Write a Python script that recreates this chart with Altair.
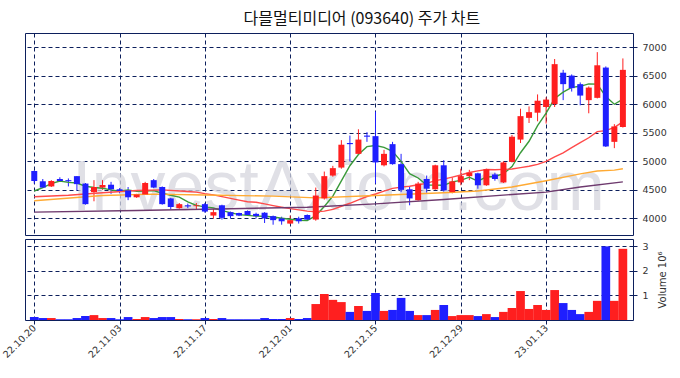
import altair as alt
import pandas as pd

title_text = "다믈멀티미디어 (093640) 주가 차트"
watermark = "InvestAxiom.com"
tick_idx = [0, 10, 20, 30, 40, 50, 60]
tick_labels = ["22.10.20", "22.11.03", "22.11.17", "22.12.01", "22.12.15", "22.12.29", "23.01.13"]
price_ticks = [4000, 4500, 5000, 5500, 6000, 6500, 7000]
vol_ticks = [1, 2, 3]

opens = [4830, 4650, 4560, 4690, 4670, 4740, 4610, 4460, 4540, 4590,
         4510, 4490, 4370, 4420, 4670, 4550, 4350, 4180, 4230, 4215,
         4250, 4050, 4230, 4110, 4095, 4130, 4080, 4100, 4040, 4000,
         3910, 4000, 4060, 3980, 4350, 4750, 4890, 5320, 5130, 5450,
         5440, 4930, 5300, 4950, 4510, 4320, 4690, 4510, 4930, 4460,
         4630, 4740, 4790, 4580, 4770, 4630, 4990, 5380, 5760, 5850,
         5950, 6000, 6550, 6500, 6350, 6070, 6110, 6640, 5340, 5600]
highs = [4840, 4690, 4670, 4720, 4700, 4740, 4620, 4670, 4670, 4640,
         4530, 4550, 4430, 4640, 4690, 4560, 4360, 4270, 4260, 4270,
         4270, 4170, 4240, 4120, 4100, 4140, 4100, 4110, 4050, 4030,
         4050, 4030, 4070, 4540, 4820, 4920, 5370, 5450, 5560, 5510,
         5870, 5200, 5340, 5130, 4560, 4640, 4750, 4940, 5020, 4720,
         4870, 4850, 4800, 4870, 4800, 5000, 5460, 5920, 5960, 6170,
         6120, 6790, 6600, 6520, 6380, 6310, 6910, 6660, 5650, 6800]
lows = [4610, 4530, 4550, 4640, 4560, 4490, 4240, 4300, 4500, 4430,
        4440, 4320, 4360, 4410, 4530, 4240, 4160, 4170, 4180, 4160,
        4100, 4000, 3980, 4000, 4040, 4050, 4000, 3920, 3890, 3890,
        3900, 3910, 3970, 3960, 4330, 4730, 4870, 5000, 5120, 5340,
        4610, 4910, 4940, 4460, 4230, 4310, 4450, 4500, 4470, 4440,
        4580, 4670, 4520, 4570, 4660, 4620, 4980, 5320, 5670, 5700,
        5660, 5950, 6070, 6220, 5980, 5840, 6100, 5250, 5230, 5590]
closes = [4655, 4540, 4655, 4655, 4650, 4600, 4250, 4550, 4585, 4510,
          4480, 4370, 4420, 4620, 4540, 4250, 4200, 4250, 4210, 4230,
          4120, 4110, 4010, 4040, 4050, 4060, 4040, 4000, 3970, 3950,
          3970, 3950, 3980, 4400, 4740, 4880, 5290, 5300, 5380, 5430,
          4980, 5130, 4950, 4500, 4350, 4610, 4520, 4930, 4490, 4650,
          4740, 4800, 4580, 4860, 4690, 4980, 5430, 5790, 5860, 6060,
          6080, 6700, 6350, 6280, 6150, 6290, 6680, 5260, 5610, 6600]
volumes_m = [0.12, 0.08, 0.08, 0.03, 0.03, 0.08, 0.16, 0.20, 0.08, 0.08,
             0.03, 0.12, 0.04, 0.12, 0.08, 0.12, 0.12, 0.04, 0.03, 0.03,
             0.08, 0.04, 0.08, 0.03, 0.03, 0.03, 0.03, 0.08, 0.04, 0.04,
             0.08, 0.04, 0.08, 0.65, 1.06, 0.82, 0.73, 0.33, 0.57, 0.37,
             1.10, 0.37, 0.41, 0.90, 0.37, 0.20, 0.20, 0.41, 0.61, 0.16,
             0.20, 0.20, 0.16, 0.24, 0.12, 0.33, 0.49, 1.18, 0.45, 0.61,
             0.41, 1.22, 0.69, 0.41, 0.24, 0.33, 0.78, 3.00, 0.78, 2.90]

ma5 = [4480, 4540, 4610, 4655, 4631, 4620, 4562, 4541, 4527, 4499,
       4475, 4499, 4473, 4480, 4486, 4440, 4406, 4372, 4290, 4228,
       4202, 4184, 4136, 4102, 4066, 4054, 4040, 4038, 4024, 4004,
       3986, 3968, 3964, 4050, 4208, 4390, 4658, 4922, 5118, 5256,
       5276, 5244, 5174, 4998, 4782, 4708, 4586, 4582, 4580, 4640,
       4666, 4722, 4652, 4726, 4734, 4782, 4908, 5150, 5350, 5624,
       5844, 6098, 6210, 6294, 6312, 6354, 6350, 6132, 5998, 6088]
ma20_idx = [0, 4, 8, 12, 15, 18, 19, 20, 21, 22, 23, 24, 25, 26, 27, 28, 29,
            30, 31, 32, 33, 34, 35, 36, 37, 38, 39, 40, 41, 42, 43, 44, 45,
            46, 47, 48, 49, 50, 51, 52, 53, 54, 55, 56, 57, 58, 59, 60, 61,
            62, 63, 64, 65, 66, 67, 68, 69]
ma20_val = [4380, 4405, 4450, 4490, 4500, 4470, 4461, 4434, 4413, 4381, 4350,
            4320, 4293, 4282, 4255, 4224, 4196, 4171, 4150, 4128, 4117, 4127,
            4158, 4213, 4265, 4324, 4384, 4427, 4478, 4525, 4548, 4563, 4590,
            4614, 4661, 4687, 4722, 4760, 4803, 4833, 4856, 4853, 4858, 4865,
            4890, 4914, 4945, 5000, 5079, 5149, 5238, 5328, 5412, 5520, 5536,
            5592, 5690]
ma60_idx = [0, 8, 14, 20, 28, 33, 40, 48, 52, 56, 60, 64, 66, 68, 69]
ma60_val = [4310, 4400, 4425, 4410, 4390, 4360, 4400, 4450, 4480, 4550, 4660,
            4780, 4830, 4845, 4870]
ma120_idx = [0, 12, 23, 32, 40, 48, 56, 60, 64, 69]
ma120_val = [4110, 4140, 4170, 4195, 4255, 4330, 4420, 4460, 4550, 4640]

RED = "#ff1f1f"
BLUE = "#1f1fff"
NAVY = "#0c1f5c"
FONT = "DejaVu Sans"

n = len(closes)
df = pd.DataFrame({
    "i": list(range(n)), "open": opens, "high": highs, "low": lows,
    "close": closes, "vol": volumes_m,
})
df["dir"] = ["up" if c >= o else "down" for o, c in zip(opens, closes)]

lines = pd.concat([
    pd.DataFrame({"i": list(range(n)), "v": ma5, "ma": "MA5"}),
    pd.DataFrame({"i": ma20_idx, "v": ma20_val, "ma": "MA20"}),
    pd.DataFrame({"i": ma60_idx, "v": ma60_val, "ma": "MA60"}),
    pd.DataFrame({"i": ma120_idx, "v": ma120_val, "ma": "MA120"}),
])

xscale = alt.Scale(domain=[-0.5, 69.6], nice=False, zero=False)
pscale = alt.Scale(domain=[3710, 7245], nice=False, zero=False)
color = alt.Color("dir:N", scale=alt.Scale(domain=["up", "down"], range=[RED, BLUE]), legend=None)

label_expr = ""
for k, lab in zip(tick_idx, tick_labels):
    label_expr += f"datum.value == {k} ? '{lab}' : "
label_expr += "''"

x_price_axis = alt.Axis(values=tick_idx, labels=False, ticks=False, domain=False,
                        grid=True, title=None)
y_price_axis = alt.Axis(orient="right", values=price_ticks, format="d",
                        title=None, grid=True, tickSize=4, labelPadding=5, domain=False)


def xp(field="i"):
    return alt.X(f"{field}:Q", scale=xscale, axis=x_price_axis)


def yp(field):
    return alt.Y(f"{field}:Q", scale=pscale, axis=y_price_axis)


wm = alt.Chart(pd.DataFrame({"t": [watermark]})).mark_text(
    align="left", baseline="alphabetic", fontSize=70, font="Liberation Sans",
    color="#d6d6de", opacity=0.75
).encode(text="t:N", x=alt.value(47), y=alt.value(177))

wick = alt.Chart(df).mark_rule(strokeWidth=1).encode(
    x=xp(), y=yp("low"), y2="high:Q", color=color)
body = alt.Chart(df).mark_bar(size=6).encode(
    x=xp(), y=yp("open"), y2="close:Q", color=color)

ma_line = alt.Chart(lines).mark_line(strokeWidth=1.4).encode(
    x=xp(), y=yp("v"),
    color=alt.Color("ma:N", scale=alt.Scale(domain=["MA5", "MA20", "MA60", "MA120"],
                                            range=["#3a9a3a", "#ff4a4a", "#ffaa33", "#6e3a6e"]),
                    legend=None),
    detail="ma:N")

price = alt.layer(wm, wick, ma_line, body).resolve_scale(color="independent").properties(
    width=608, height=202)

vol = alt.Chart(df).mark_bar(size=8.7).encode(
    x=alt.X("i:Q", scale=xscale,
            axis=alt.Axis(values=tick_idx, labelExpr=label_expr, labelAngle=315,
                          labelAlign="right", labelBaseline="middle", grid=True,
                          tickSize=4, title=None, domain=False, labelPadding=2)),
    y=alt.Y("vol:Q", scale=alt.Scale(domain=[0, 3.3], nice=False),
            axis=alt.Axis(orient="right", values=vol_ticks, format="d", title="Volume  10⁶",
                          titleAngle=270, grid=True, tickSize=4, labelPadding=5,
                          labelOverlap=False, domain=False, titleFontWeight="normal",
                          titleFontSize=10, titleColor="#333333", titlePadding=14,
                          titleBaseline="middle")),
    color=color,
).properties(width=608, height=81)

chart = alt.vconcat(price, vol, spacing=2).properties(
    title=alt.TitleParams(title_text, font="Noto Sans CJK KR", fontSize=16,
                          fontWeight="normal", color="#111111", anchor="middle",
                          dx=28, offset=6),
    padding={"left": 0, "top": 10, "right": 5, "bottom": 5},
    background="white",
).configure_view(stroke=NAVY, strokeWidth=1).configure_axis(
    gridColor=NAVY, gridDash=[4, 3], gridWidth=1, gridOpacity=1,
    tickColor=NAVY, labelFont=FONT, labelFontSize=9.5, labelColor="#333333",
    titleFont=FONT,
)

chart.save("out.html", embed_options={"renderer": "svg", "actions": False})
